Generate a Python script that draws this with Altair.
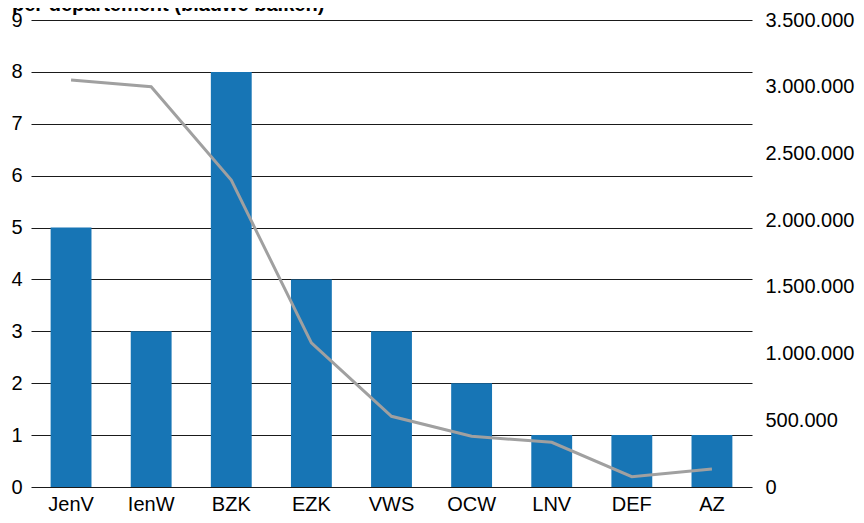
import altair as alt
import pandas as pd

title_text = "per departement (blauwe balken)"
departments = ["JenV", "IenW", "BZK", "EZK", "VWS", "OCW", "LNV", "DEF", "AZ"]
counts = [5, 3, 8, 4, 3, 2, 1, 1, 1]
amounts = [3050000, 3000000, 2300000, 1080000, 530000, 380000, 335000, 77000, 135000]
left_ticks = [0, 1, 2, 3, 4, 5, 6, 7, 8, 9]
right_ticks = [0, 500000, 1000000, 1500000, 2000000, 2500000, 3000000, 3500000]

df = pd.DataFrame({"dept": departments, "count": counts, "amount": amounts})
title_df = pd.DataFrame({"t": [title_text]})

FONT = "Liberation Sans"

x_enc = alt.X(
    "dept:N",
    sort=departments,
    title=None,
    scale=alt.Scale(paddingInner=0.49, paddingOuter=0.245),
    axis=alt.Axis(labelAngle=0, ticks=False, domain=False, labelPadding=7,
                  labelFontSize=20, labelFont=FONT, labelColor="#000000", grid=False),
)

bars = alt.Chart(df).mark_bar(color="#1775b5").encode(
    x=x_enc,
    y=alt.Y(
        "count:Q",
        title=None,
        scale=alt.Scale(domain=[0, 9], nice=False),
        axis=alt.Axis(values=left_ticks, grid=True, gridColor="#1a1a1a", gridWidth=1.2,
                      gridOpacity=1, ticks=False, domain=False, labelPadding=9,
                      labelFontSize=20, labelFont=FONT, labelColor="#000000", format="d"),
    ),
)

line = alt.Chart(df).mark_line(color="#a0a0a0", strokeWidth=3).encode(
    x=alt.X("dept:N", sort=departments),
    y=alt.Y(
        "amount:Q",
        title=None,
        scale=alt.Scale(domain=[0, 3500000], nice=False),
        axis=alt.Axis(orient="right", values=right_ticks, grid=False, ticks=False,
                      domain=False, labelPadding=13, labelFontSize=20, labelFont=FONT,
                      labelColor="#000000", format=",d"),
    ),
)

title_mark = alt.Chart(title_df).mark_text(
    font=FONT, fontSize=20, fontWeight="bold", align="left", baseline="alphabetic",
    color="#000000",
).encode(
    text="t:N",
    x=alt.value(-19),
    y=alt.value(-9),
)

chart = (
    alt.layer(bars, line, title_mark)
    .resolve_scale(y="independent")
    .properties(
        width=721,
        height=467,
        autosize=alt.AutoSizeParams(type="none"),
        padding={"left": 23, "top": 12, "right": 104, "bottom": 28},
    )
    .configure_view(stroke=None)
)

chart.save(
    "out.html",
    embed_options={
        "renderer": "svg",
        "actions": False,
        "formatLocale": {"decimal": ",", "thousands": ".", "grouping": [3], "currency": ["€", ""]},
    },
)
